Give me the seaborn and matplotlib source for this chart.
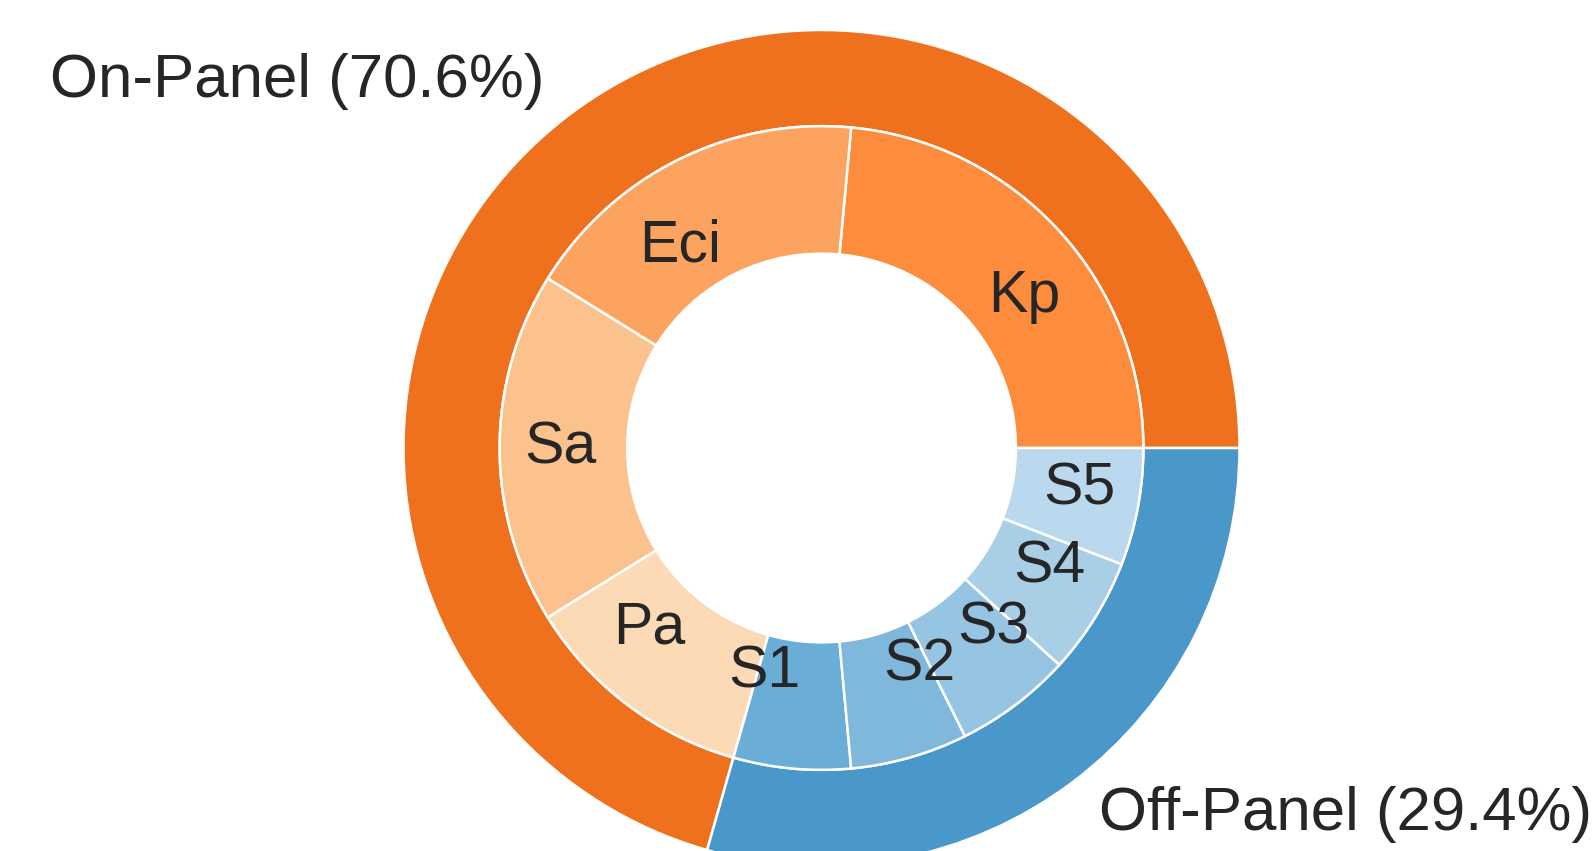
import numpy as np
import matplotlib
matplotlib.use("Agg")
import matplotlib.pyplot as plt
import seaborn as sns

# ---- data ----
outer_labels = ["On-Panel", "Off-Panel"]
outer_values = [12, 5]
inner_labels = ["Kp", "Eci", "Sa", "Pa", "S1", "S2", "S3", "S4", "S5"]
inner_values = [4, 3, 3, 2, 1, 1, 1, 1, 1]

# ---- style ----
sns.set_theme(style="white")
plt.rcParams["font.family"] = ["Liberation Sans", "DejaVu Sans"]
text_color = "#262626"

outer_colors = sns.color_palette(["#ef711d", "#4a97c9"])
inner_colors = sns.color_palette([
    "#fd8d3c", "#fca45f", "#fcc28e", "#fddab6",
    "#6aadd6", "#80b8db", "#95c5e2", "#a8cfe6", "#bad8ee",
])

W, H, DPI = 1592, 851, 100
fig = plt.figure(figsize=(W / DPI, H / DPI), dpi=DPI)
ax = fig.add_axes([0, 0, 1, 1])

total = sum(outer_values)
outer_text = [f"{n} ({v / total * 100:.1f}%)" for n, v in zip(outer_labels, outer_values)]

wedge_kw = dict(edgecolor="white", linewidth=1.8)
_, t_out = ax.pie(outer_values, radius=1.0, startangle=0, counterclock=True,
                  colors=outer_colors, labels=outer_text, labeldistance=1.1,
                  wedgeprops=dict(width=0.23, **wedge_kw),
                  textprops=dict(fontsize=44.5, color=text_color))
_, t_in = ax.pie(inner_values, radius=0.77, startangle=0, counterclock=True,
                 colors=inner_colors, labels=inner_labels, labeldistance=0.7,
                 wedgeprops=dict(width=0.305, **wedge_kw),
                 textprops=dict(fontsize=42.5, color=text_color))

# place pie: centre at pixel (821.5, 448 from top), radius 418 px
R = 418.0
cx, cy = 821.5, H - 448.0
ax.set_aspect("auto")
ax.set_xlim(-cx / R, (W - cx) / R)
ax.set_ylim(-cy / R, (H - cy) / R)
ax.axis("off")

fig.savefig("out.png", dpi=DPI, facecolor="white")
